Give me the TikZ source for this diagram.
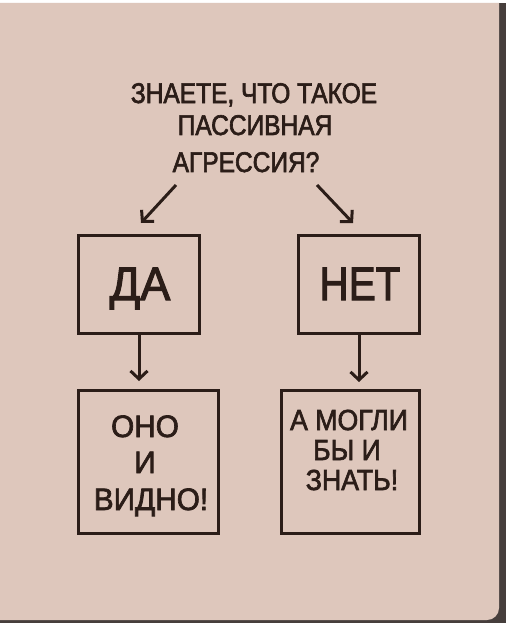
\documentclass[tikz,border=0pt]{standalone}
\usepackage{fontspec}
\setmainfont[FakeStretch=0.86,FakeBold=2.2]{Liberation Sans}
\newfontfamily\widefont[FakeStretch=0.96,FakeBold=2.2]{Liberation Sans}
\newfontfamily\midfont[FakeStretch=0.92,FakeBold=2.2]{Liberation Sans}
\usetikzlibrary{arrows.meta}
\definecolor{bg}{RGB}{222,199,188}
\definecolor{ink}{RGB}{43,29,24}
\definecolor{frame}{RGB}{70,62,60}
\tikzset{
  boxnode/.style={draw=ink, line width=3pt, rectangle, inner sep=0pt},
  txt/.style={text=ink, anchor=base, inner sep=0pt},
  conn/.style={draw=ink, line width=3pt, -{Straight Barb[length=8pt,width=17pt,line width=3pt]}},
}
\begin{document}
\begin{tikzpicture}[x=1pt,y=-1pt]
\useasboundingbox (0,0) rectangle (506,623);
\fill[frame] (0,0) rectangle (506,623);
\fill[white] (0,0) rectangle (506,3);
\fill[bg] (0,3) -- (499,3) -- (499,608) arc[start angle=0,end angle=90,radius=12] -- (0,620) -- cycle;
% title
\node[txt, font=\fontsize{28.5}{34}\selectfont] (t1) at (254,103) {ЗНАЕТЕ, ЧТО ТАКОЕ};
\node[txt, font=\fontsize{28.5}{34}\selectfont] (t2) at (255,135) {ПАССИВНАЯ};
\node[txt, font=\fontsize{28.5}{34}\selectfont] (t3) at (246,172) {АГРЕССИЯ?};
% boxes
\node[boxnode, minimum width=121pt, minimum height=98pt] (da) at (139,284.5) {};
\node[boxnode, minimum width=121pt, minimum height=98pt] (net) at (359,284.5) {};
\node[boxnode, minimum width=140pt, minimum height=143pt] (ono) at (148.5,462) {};
\node[boxnode, minimum width=138pt, minimum height=143pt] (mogli) at (350.5,462) {};
% box texts
\node[txt, font=\widefont\fontsize{47}{50}\selectfont] (datxt) at (140,300) {ДА};
\node[txt, font=\fontsize{47}{50}\selectfont] (nettxt) at (360,300) {НЕТ};
\node[txt, font=\widefont\fontsize{31}{35}\selectfont] (o1) at (145,437) {ОНО};
\node[txt, font=\widefont\fontsize{31}{35}\selectfont] (o2) at (145,473) {И};
\node[txt, font=\widefont\fontsize{31}{35}\selectfont] (o3) at (151,510) {ВИДНО!};
\node[txt, font=\midfont\fontsize{29}{34}\selectfont] (m1) at (349,430) {А МОГЛИ};
\node[txt, font=\midfont\fontsize{29}{34}\selectfont] (m2) at (347,460) {БЫ И};
\node[txt, font=\midfont\fontsize{29}{34}\selectfont] (m3) at (352,490) {ЗНАТЬ!};
% connectors
\coordinate (la) at (176,185);
\coordinate (lb) at (141,223);
\coordinate (ra) at (317,185);
\coordinate (rb) at (353,223);
\draw[conn] (la) -- (lb);
\draw[conn] (ra) -- (rb);
\draw[conn, shorten >=8pt] (da.south) -- (da.south |- ono.north);
\draw[conn, shorten >=7pt] (net.south) -- (net.south |- mogli.north);
\end{tikzpicture}
\end{document}
